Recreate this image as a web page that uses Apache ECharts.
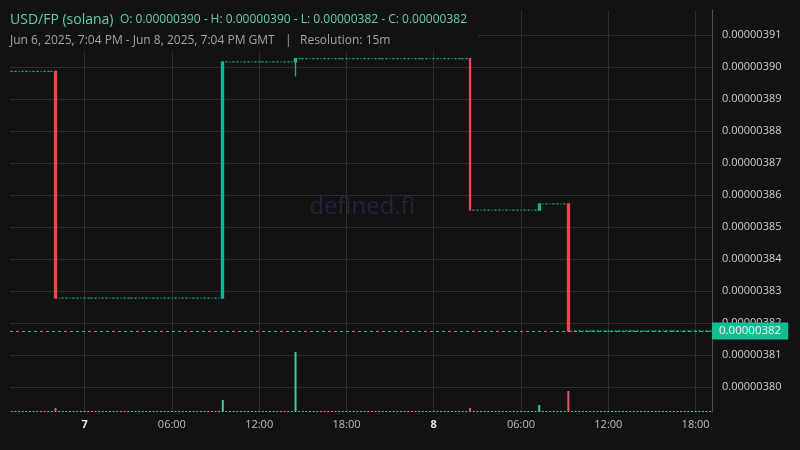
<!DOCTYPE html>
<html>
<head>
<meta charset="utf-8">
<script src="https://cdn.jsdelivr.net/npm/echarts@6/dist/echarts.min.js"></script>
<style>
html,body{margin:0;padding:0;background:#121212;}
#c{width:800px;height:450px;}
</style>
</head>
<body>
<div id="c"></div>
<script>
// Price levels (USD per FP)
const A = 3.8987e-6, B = 3.8279e-6, C = 3.9017e-6, D = 3.9027e-6,
      E = 3.8554e-6, F = 3.8573e-6, G = 3.8176e-6, W = 3.8971e-6;

// 15-minute candles, Jun 6 19:00 GMT .. Jun 8 19:00 GMT (193 slots)
const opens = [
  A,A,A,A,A,A,A,A,A,A, A,A,A,
  B,B,B,B,B,B,B,B,B,B, B,B,B,B,B,B,B,B,B,B, B,B,B,B,B,B,B,B,B,B, B,B,B,B,B,B,B,B,B,B, B,B,B,B,B,B,
  C,C,C,C,C,C,C,C,C,C, C,C,C,C,C,C,C,C,C,C,
  D,D,D,D,D,D,D,D,D,D, D,D,D,D,D,D,D,D,D,D, D,D,D,D,D,D,D,D,D,D, D,D,D,D,D,D,D,D,D,D, D,D,D,D,D,D,D,D,
  E,E,E,E,E,E,E,E,E,E, E,E,E,E,E,E,E,E,E,
  F,F,F,F,F,F,F,F,
  G,G,G,G,G,G,G,G,G,G, G,G,G,G,G,G,G,G,G,G, G,G,G,G,G,G,G,G,G,G, G,G,G,G,G,G,G,G,G
];
const closes = [
  A,A,A,A,A,A,A,A,A,A, A,A,
  B,B,B,B,B,B,B,B,B,B, B,B,B,B,B,B,B,B,B,B, B,B,B,B,B,B,B,B,B,B, B,B,B,B,B,B,B,B,B,B, B,B,B,B,B,B,
  C,C,C,C,C,C,C,C,C,C, C,C,C,C,C,C,C,C,C,C,
  D,D,D,D,D,D,D,D,D,D, D,D,D,D,D,D,D,D,D,D, D,D,D,D,D,D,D,D,D,D, D,D,D,D,D,D,D,D,D,D, D,D,D,D,D,D,D,D,
  E,E,E,E,E,E,E,E,E,E, E,E,E,E,E,E,E,E,E,
  F,F,F,F,F,F,F,F,
  G,G,G,G,G,G,G,G,G,G, G,G,G,G,G,G,G,G,G,G, G,G,G,G,G,G,G,G,G,G, G,G,G,G,G,G,G,G,G,G
];
const highs = [
  A,A,A,A,A,A,A,A,A,A, A,A,A,
  B,B,B,B,B,B,B,B,B,B, B,B,B,B,B,B,B,B,B,B, B,B,B,B,B,B,B,B,B,B, B,B,B,B,B,B,B,B,B,B, B,B,B,B,B,
  C,C,C,C,C,C,C,C,C,C, C,C,C,C,C,C,C,C,C,C,
  D,D,D,D,D,D,D,D,D,D, D,D,D,D,D,D,D,D,D,D, D,D,D,D,D,D,D,D,D,D, D,D,D,D,D,D,D,D,D,D, D,D,D,D,D,D,D,D,D,
  E,E,E,E,E,E,E,E,E,E, E,E,E,E,E,E,E,E,
  F,F,F,F,F,F,F,F,F,
  G,G,G,G,G,G,G,G,G,G, G,G,G,G,G,G,G,G,G,G, G,G,G,G,G,G,G,G,G,G, G,G,G,G,G,G,G,G,G
];
const lows = [
  A,A,A,A,A,A,A,A,A,A, A,A,
  B,B,B,B,B,B,B,B,B,B, B,B,B,B,B,B,B,B,B,B, B,B,B,B,B,B,B,B,B,B, B,B,B,B,B,B,B,B,B,B, B,B,B,B,B,B,B,
  C,C,C,C,C,C,C,C,C,C, C,C,C,C,C,C,C,C,C,
  W,
  D,D,D,D,D,D,D,D,D,D, D,D,D,D,D,D,D,D,D,D, D,D,D,D,D,D,D,D,D,D, D,D,D,D,D,D,D,D,D,D, D,D,D,D,D,D,D,
  E,E,E,E,E,E,E,E,E,E, E,E,E,E,E,E,E,E,E,E,
  F,F,F,F,F,F,F,
  G,G,G,G,G,G,G,G,G,G, G,G,G,G,G,G,G,G,G,G, G,G,G,G,G,G,G,G,G,G, G,G,G,G,G,G,G,G,G,G
];
// Volume (relative units)
const volumes = [
  1,1,1,1,1,1,1,1,1,1, 1,1,
  4,
  1,1,1,1,1,1,1,1,1,1, 1,1,1,1,1,1,1,1,1,1, 1,1,1,1,1,1,1,1,1,1, 1,1,1,1,1,1,1,1,1,1, 1,1,1,1,1,
  12,
  1,1,1,1,1,1,1,1,1,1, 1,1,1,1,1,1,1,1,1,
  60,
  1,1,1,1,1,1,1,1,1,1, 1,1,1,1,1,1,1,1,1,1, 1,1,1,1,1,1,1,1,1,1, 1,1,1,1,1,1,1,1,1,1, 1,1,1,1,1,1,1,
  4,
  1,1,1,1,1,1,1,1,1,1, 1,1,1,1,1,1,1,1,
  7,
  1,1,1,1,1,1,1,
  21,
  1,1,1,1,1,1,1,1,1,1, 1,1,1,1,1,1,1,1,1,1, 1,1,1,1,1,1,1,1,1,1, 1,1,1,1,1,1,1,1,1
];

// time slots (category axis)
const slotStart = Date.UTC(2025, 5, 6, 19, 0);
const slotCount = 193;
const categories = [];
for (let i = 0; i < slotCount; i++) {
  const d = new Date(slotStart + i * 15 * 60000);
  categories.push(d.toISOString().slice(0, 16));
}
// x tick labels
const tickIndex  = [20, 44, 68, 92, 116, 140, 164, 188];
const tickLabels = ['7', '06:00', '12:00', '18:00', '8', '06:00', '12:00', '18:00'];
const dayTickIndex = [20, 116];

const UP = '#14b393', DOWN = '#f0464f';
const VUP = '#3fcaa2', VDOWN = '#e5586b';

const candleData = opens.map((o, i) => [o, closes[i], lows[i], highs[i]]);
const volData = volumes.map((v, i) => ({
  value: v,
  itemStyle: { color: closes[i] < opens[i] ? VDOWN : VUP }
}));
const lastClose = closes[closes.length - 1];

const chart = echarts.init(document.getElementById('c'), null, { renderer: 'canvas' });
const option = {
  backgroundColor: '#121212',
  animation: false,
  textStyle: { fontFamily: 'Open Sans' },
  grid: [
    { left: 10, right: 88, top: 10, bottom: 38 },
    { left: 10, right: 88, bottom: 38, height: 100 }
  ],
  xAxis: [
    {
      type: 'category', gridIndex: 0, data: categories, boundaryGap: true,
      axisLine: { show: false }, axisTick: { show: false },
      axisLabel: {
        interval: (i) => tickIndex.indexOf(i) >= 0,
        formatter: (v, i) => {
          const t = tickLabels[tickIndex.indexOf(i)];
          return dayTickIndex.indexOf(i) >= 0 ? '{d|' + t + '}' : t;
        },
        color: '#bdbdbd', fontSize: 11, margin: 7,
        rich: { d: { fontWeight: 'bold', color: '#e4e4e4', fontSize: 11 } }
      },
      splitLine: {
        show: true, alignWithLabel: true,
        interval: (i) => tickIndex.indexOf(i) >= 0,
        lineStyle: { color: '#2e2e2e', width: 1 }
      }
    },
    {
      type: 'category', gridIndex: 1, data: categories, boundaryGap: true, show: false
    }
  ],
  yAxis: [
    {
      type: 'value', gridIndex: 0, position: 'right', scale: true,
      min: 3.7923e-6, max: 3.9179e-6, splitNumber: 12,
      minInterval: 1e-8, maxInterval: 1e-8,
      axisLine: { show: true, lineStyle: { color: '#4e4e4e' } },
      axisTick: { show: false },
      axisLabel: {
        color: '#cfcfcf', fontSize: 11, margin: 10,
        showMinLabel: false, showMaxLabel: false,
        formatter: (v) => v.toFixed(8)
      },
      splitLine: {
        show: true, showMinLine: false, showMaxLine: false,
        lineStyle: { color: '#2e2e2e', width: 1 }
      }
    },
    {
      type: 'value', gridIndex: 1, min: 0, max: 100, show: false,
      splitLine: { show: false }
    }
  ],
  series: [
    {
      type: 'bar', xAxisIndex: 1, yAxisIndex: 1, data: volData,
      barWidth: 2, silent: true
    },
    {
      type: 'candlestick', xAxisIndex: 0, yAxisIndex: 0, data: candleData,
      barWidth: 2.2,
      itemStyle: {
        color: UP, color0: DOWN, borderColor: UP, borderColor0: DOWN, borderWidth: 1.3
      }
    },
    {
      // last-price marker line
      type: 'line', xAxisIndex: 0, yAxisIndex: 0, data: [], silent: true,
      markLine: {
        silent: true, symbol: ['none', 'none'], animation: false, precision: 12,
        data: [{ yAxis: lastClose }],
        lineStyle: { color: '#22b89a', type: [3, 3], width: 1 },
        label: {
          show: true, position: 'end', distance: 0,
          formatter: (p) => Number(p.value).toFixed(8),
          backgroundColor: '#10bf8f', color: '#eefaf5',
          fontSize: 11.5, lineHeight: 13, padding: [2, 7, 2, 7], fontFamily: 'Open Sans'
        }
      }
    }
  ],
  graphic: [
    { type: 'text', z: -10, silent: true,
      style: { text: 'defined.fi', x: 362, y: 207, align: 'center', verticalAlign: 'middle',
               font: '24px "Open Sans"', fill: '#23233f' } },
    { type: 'rect', z: 50, silent: true,
      shape: { x: 0, y: 0, width: 478, height: 51 }, style: { fill: '#121212' } },
    { type: 'text', z: 51, silent: true,
      style: { text: 'USD/FP (solana)', x: 10, y: 20, verticalAlign: 'middle',
               font: '14px "Open Sans"', fill: '#5fd1b1' } },
    { type: 'text', z: 51, silent: true,
      style: { text: 'O: 0.00000390 - H: 0.00000390 - L: 0.00000382 - C: 0.00000382', x: 120, y: 20,
               verticalAlign: 'middle', font: '12px "Open Sans"', fill: '#5fd1b1' } },
    { type: 'text', z: 51, silent: true,
      style: { text: 'Jun 6, 2025, 7:04 PM - Jun 8, 2025, 7:04 PM GMT', x: 10, y: 41,
               verticalAlign: 'middle', font: '12px "Open Sans"', fill: '#a3a3a3' } },
    { type: 'text', z: 51, silent: true,
      style: { text: '|', x: 285, y: 41, verticalAlign: 'middle', font: '12px "Open Sans"', fill: '#a3a3a3' } },
    { type: 'text', z: 51, silent: true,
      style: { text: 'Resolution: 15m', x: 300, y: 41, verticalAlign: 'middle',
               font: '12px "Open Sans"', fill: '#a3a3a3' } }
  ]
};
chart.setOption(option);
</script>
</body>
</html>
